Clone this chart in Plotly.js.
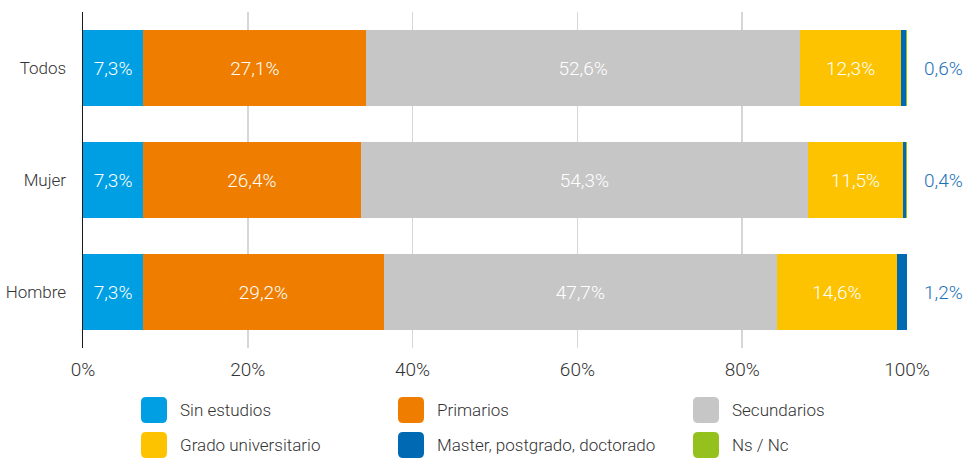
<!DOCTYPE html>
<html>
<head>
<meta charset="utf-8">
<script src="https://cdn.plot.ly/plotly-3.0.1.min.js"></script>
<style>html,body{margin:0;padding:0;background:#fff;}#chart{width:967px;height:458px;}</style>
</head>
<body>
<div id="chart"></div>
<script>
const categories = ["Hombre", "Mujer", "Todos"];
const seriesNames = ["Sin estudios", "Primarios", "Secundarios", "Grado universitario", "Master, postgrado, doctorado", "Ns / Nc"];
const sinEstudios = [7.3, 7.3, 7.3];
const primarios = [29.2, 26.4, 27.1];
const secundarios = [47.7, 54.3, 52.6];
const grado = [14.6, 11.5, 12.3];
const master = [1.2, 0.4, 0.6];
const nsnc = [0.0, 0.1, 0.1];
const colors = ["#009FE3", "#EF7D00", "#C6C6C6", "#FDC300", "#0069B4", "#95C11F"];
const tickVals = [0, 20, 40, 60, 80, 100];
const tickText = ["0%", "20%", "40%", "60%", "80%", "100%"];

const FONT = "Roboto, sans-serif";
const W = 300;
const fmt = v => v.toFixed(1).replace('.', ',') + '%';

const allSeries = [sinEstudios, primarios, secundarios, grado, master, nsnc];
const traces = allSeries.map((vals, i) => ({
  type: 'bar',
  orientation: 'h',
  name: seriesNames[i],
  y: categories,
  x: vals,
  marker: {color: colors[i], line: {width: 0}},
  text: i < 4 ? vals.map(fmt) : undefined,
  textposition: i < 4 ? 'inside' : 'none',
  insidetextanchor: 'middle',
  textangle: 0,
  insidetextfont: {color: '#ffffff', size: 19, family: FONT, weight: W},
  hoverinfo: 'x+name',
  showlegend: false
}));

const L = 83, R = 907, T = 12, B = 348;
const px = v => (v - L) / (R - L);
const py = v => (B - v) / (B - T);

// Outside labels for master series
const annotations = categories.map((c, i) => ({
  xref: 'paper', yref: 'y', x: px(943), y: c,
  text: fmt(master[i]), showarrow: false,
  font: {color: '#1D71B8', size: 19, family: FONT, weight: W},
  xanchor: 'center', yanchor: 'middle'
}));

// Legend built from series names/colors
const colX = [141, 398, 693];
const rowY = [410, 445];
const shapes = [];
seriesNames.forEach((name, i) => {
  const col = i % 3, row = Math.floor(i / 3);
  const x0 = colX[col], y0 = rowY[row] - 13, s = 26, r = 5;
  const path = `M ${px(x0 + r)},${py(y0)} L ${px(x0 + s - r)},${py(y0)} Q ${px(x0 + s)},${py(y0)} ${px(x0 + s)},${py(y0 + r)} ` +
    `L ${px(x0 + s)},${py(y0 + s - r)} Q ${px(x0 + s)},${py(y0 + s)} ${px(x0 + s - r)},${py(y0 + s)} ` +
    `L ${px(x0 + r)},${py(y0 + s)} Q ${px(x0)},${py(y0 + s)} ${px(x0)},${py(y0 + s - r)} ` +
    `L ${px(x0)},${py(y0 + r)} Q ${px(x0)},${py(y0)} ${px(x0 + r)},${py(y0)} Z`;
  shapes.push({type: 'path', xref: 'paper', yref: 'paper', path: path,
    fillcolor: colors[i], line: {width: 0}});
  annotations.push({xref: 'paper', yref: 'paper', x: px(x0 + 37), y: py(rowY[row]),
    text: name, showarrow: false, xanchor: 'left', yanchor: 'middle',
    font: {color: '#333333', size: 17, family: FONT, weight: W}});
});

const layout = {
  width: 967, height: 458,
  margin: {l: 83, r: 60, t: 12, b: 110, pad: 0},
  paper_bgcolor: '#ffffff', plot_bgcolor: '#ffffff',
  barmode: 'stack', bargap: 0.33,
  font: {family: FONT, color: '#333333', size: 17, weight: W},
  showlegend: false,
  xaxis: {
    range: [0, 100], tickvals: tickVals, ticktext: tickText,
    showgrid: true, gridcolor: '#d6d6d6', gridwidth: 1.5, zeroline: false,
    ticks: 'outside', ticklen: 4, tickcolor: 'rgba(0,0,0,0)',
    tickfont: {size: 19, color: '#333333', family: FONT, weight: W},
    fixedrange: true
  },
  yaxis: {
    showline: true, linecolor: '#1a1a1a', linewidth: 1.5, showgrid: false,
    ticks: 'outside', ticklen: 12, tickcolor: 'rgba(0,0,0,0)',
    tickfont: {size: 17, color: '#333333', family: FONT, weight: W},
    fixedrange: true
  },
  annotations: annotations,
  shapes: shapes
};

Plotly.newPlot('chart', traces, layout, {displayModeBar: false, staticPlot: true});
</script>
</body>
</html>
